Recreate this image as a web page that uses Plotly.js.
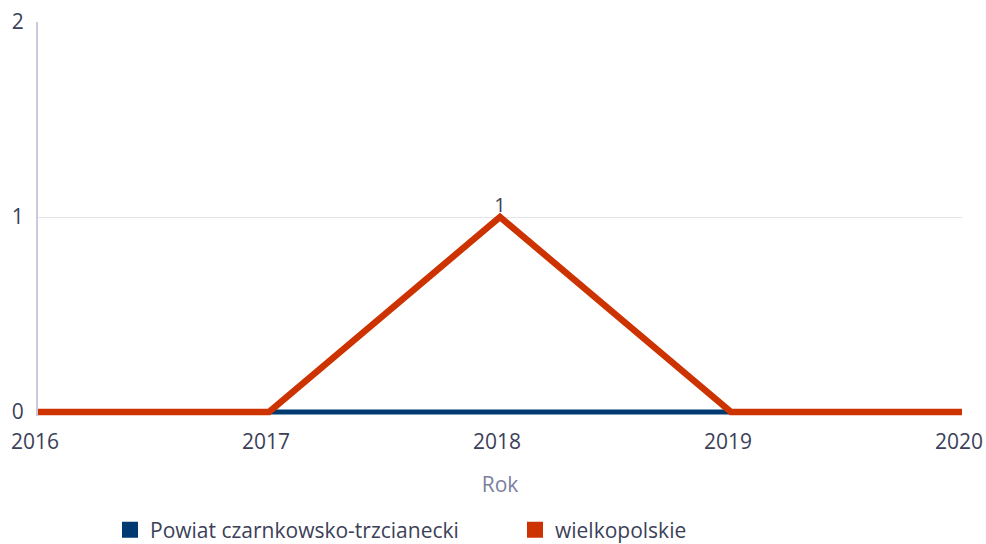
<!DOCTYPE html>
<html><head><meta charset="utf-8">
<script src="https://cdn.plot.ly/plotly-3.0.1.min.js"></script>
<style>body{margin:0;padding:0;background:#fff}#c{width:986px;height:544px}</style>
</head><body><div id="c"></div>
<script>
const yearsPowiat = [2017, 2018, 2019];
const valuesPowiat = [0, 0, 0];
const yearsWlkp = [2016, 2017, 2018, 2019, 2020];
const valuesWlkp = [0, 0, 1, 0, 0];
const seriesNames = ["Powiat czarnkowsko-trzcianecki", "wielkopolskie"];
const seriesColors = ["#003a70", "#cc3300"];
const tickYears = [2016, 2017, 2018, 2019, 2020];

const textColor = "#3c3f58";
const traces = [
  {x: yearsPowiat, y: valuesPowiat, name: seriesNames[0], type: "scatter", mode: "lines",
   line: {color: seriesColors[0], width: 5}, cliponaxis: false, showlegend: false},
  {x: yearsWlkp, y: valuesWlkp, name: seriesNames[1], type: "scatter", mode: "lines+text",
   text: valuesWlkp.map(v => v > 0 ? String(v) : ""), textposition: "top center",
   textfont: {family: "Open Sans", size: 20, color: textColor},
   line: {color: seriesColors[1], width: 6.5}, cliponaxis: false, showlegend: false},
  // legend-only square swatches
  {x: [null], y: [null], name: seriesNames[0], type: "scatter", mode: "markers",
   marker: {color: seriesColors[0], symbol: "square", size: 16}, hoverinfo: "skip"},
  {x: [null], y: [null], name: seriesNames[1], type: "scatter", mode: "markers",
   marker: {color: seriesColors[1], symbol: "square", size: 16}, hoverinfo: "skip"}
];
const layout = {
  width: 986, height: 544,
  margin: {l: 38, r: 24, t: 22, b: 128},
  paper_bgcolor: "#fff", plot_bgcolor: "#fff",
  font: {family: "Open Sans", size: 21, color: textColor},
  xaxis: {range: [2016, 2020], tickvals: tickYears, ticktext: tickYears.map(String),
    showgrid: false, zeroline: false, showline: false, ticks: "",
    title: {text: "Rok", font: {size: 21, color: "#7a7f9f"}, standoff: 23},
    tickfont: {size: 21, color: textColor}, ticklabelstandoff: 11, ticklabelshift: -3,
    ticklabeloverflow: "allow", automargin: false},
  yaxis: {range: [-0.0205, 2], tickvals: [0, 1, 2], showgrid: true, gridcolor: "#e4e4e8",
    zeroline: false, showline: true, linecolor: "#c8cbe0", linewidth: 2, ticks: "",
    tickfont: {size: 21, color: textColor}, ticklabelstandoff: 8, automargin: false},
  legend: {orientation: "h", xref: "container", yref: "container",
    x: 110/986, xanchor: "left", y: (544-530)/544, yanchor: "middle",
    font: {size: 21, color: textColor}, itemwidth: 30, entrywidth: 360, traceorder: "normal"},
  showlegend: true
};
Plotly.newPlot("c", traces, layout, {displayModeBar: false});
</script></body></html>
